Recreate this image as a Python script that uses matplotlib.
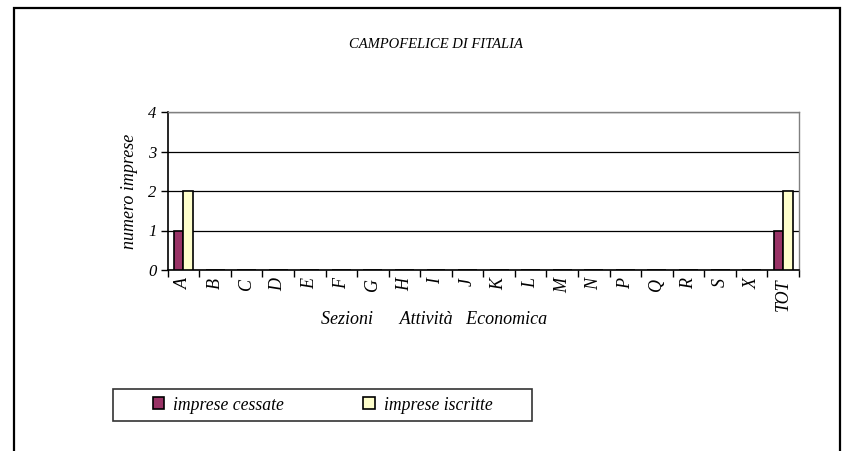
import numpy as np
import matplotlib
matplotlib.use('Agg')
import matplotlib.pyplot as plt
from matplotlib.patches import Rectangle

categories = ['A', 'B', 'C', 'D', 'E', 'F', 'G', 'H', 'I', 'J', 'K', 'L',
              'M', 'N', 'P', 'Q', 'R', 'S', 'X', 'TOT']
cessate = [1, 0, 0, 0, 0, 0, 0, 0, 0, 0, 0, 0, 0, 0, 0, 0, 0, 0, 0, 1]
iscritte = [2, 0, 0, 0, 0, 0, 0, 0, 0, 0, 0, 0, 0, 0, 0, 0, 0, 0, 0, 2]

plt.rcParams['font.family'] = ['Liberation Serif', 'DejaVu Serif']
plt.rcParams['font.style'] = 'italic'

W, H = 843, 451
fig = plt.figure(figsize=(W / 100, H / 100), dpi=100)

# outer frame of the chart
fig.add_artist(Rectangle((14 / W, -0.05), (840 - 14) / W, (H - 8) / H + 0.05,
                         transform=fig.transFigure, fill=False,
                         edgecolor='black', linewidth=1.6))

ax = fig.add_axes([167.7 / W, 1 - 270 / H, (799 - 167.7) / W, (270 - 112) / H])

x = np.arange(len(categories))
bw = 0.3
ax.bar(x - bw / 2, cessate, bw, color='#993366', edgecolor='black', linewidth=1.2,
       label='imprese cessate', zorder=3)
ax.bar(x + bw / 2, iscritte, bw, color='#FFFFCC', edgecolor='black', linewidth=1.2,
       label='imprese iscritte', zorder=3)

ax.set_xlim(-0.5, len(categories) - 0.5)
ax.set_ylim(0, 4)
ax.set_yticks([0, 1, 2, 3, 4])
ax.set_yticklabels(['0', '1', '2', '3', '4'], fontsize=12)
ax.yaxis.grid(True, color='black', linewidth=0.9, zorder=0)
ax.set_axisbelow(True)

# category ticks between groups, labels at centres
ax.set_xticks(np.arange(len(categories) + 1) - 0.5)
ax.set_xticklabels([])
ax.set_xticks(x, minor=True)
ax.set_xticklabels(categories, minor=True, rotation=90, fontsize=13)
ax.tick_params(axis='x', which='minor', length=0, pad=6)
ax.tick_params(axis='x', which='major', length=5, width=1, direction='out')
ax.tick_params(axis='y', length=5, width=1, direction='out', pad=3)

for s in ['top', 'right']:
    ax.spines[s].set_color('#808080')
    ax.spines[s].set_linewidth(1.0)
for s in ['left', 'bottom']:
    ax.spines[s].set_color('black')
    ax.spines[s].set_linewidth(1.2)

ax.set_ylabel('numero imprese', fontsize=13, labelpad=7)

fig.text(436 / W, 1 - 44 / H, 'CAMPOFELICE DI FITALIA', ha='center', va='center',
         fontsize=10.5)
fig.text(434 / W, 1 - 319 / H, 'Sezioni      Attività   Economica', ha='center',
         va='center', fontsize=13)

# legend box drawn separately, entries centred inside it
fig.add_artist(Rectangle((113 / W, 1 - 421 / H), (532 - 113) / W, (421 - 389) / H,
                         transform=fig.transFigure, fill=False,
                         edgecolor='#333333', linewidth=1.2))
fig.legend(loc='center', ncol=2, bbox_to_anchor=(322.5 / W, 1 - 405 / H),
           frameon=False, fontsize=12.7, handlelength=0.65, handleheight=0.65,
           handletextpad=0.5, columnspacing=4.5, borderaxespad=0, borderpad=0)

fig.savefig('out.png', dpi=100)
